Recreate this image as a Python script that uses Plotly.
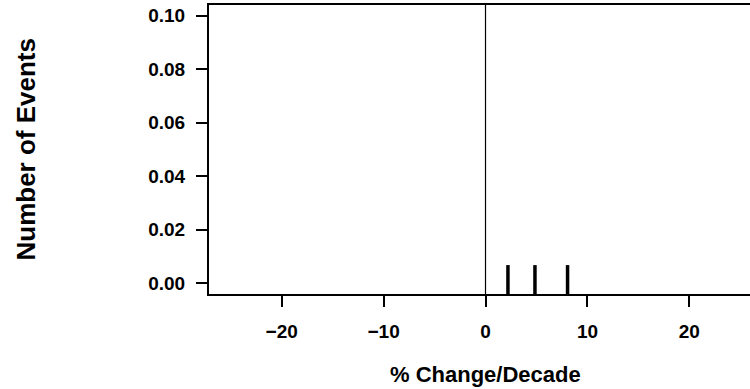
import plotly.graph_objects as go

# Data
rug_values = [2.2, 4.85, 8.05]          # % change/decade of the events
x_ticks = [-20, -10, 0, 10, 20]
y_ticks = [0.00, 0.02, 0.04, 0.06, 0.08, 0.10]
x_range = [-27.13, 25.95]
y_range = [-0.004, 0.104]
rug_top = 0.0068
x_title = "% Change/Decade"
y_title = "Number of Events"

FONT = "Liberation Sans, Arial, Helvetica, sans-serif"

rx, ry = [], []
for v in rug_values:
    rx += [v, v, None]
    ry += [y_range[0], rug_top, None]

fig = go.Figure()
fig.add_trace(go.Scatter(x=rx, y=ry, mode="lines",
                         line=dict(color="black", width=3.5),
                         hoverinfo="skip", showlegend=False))
fig.add_vline(x=0, line=dict(color="black", width=1.2), layer="below")

fig.update_layout(
    width=750, height=389,
    margin=dict(l=209, r=0, t=5, b=95),
    paper_bgcolor="white", plot_bgcolor="white",
    font=dict(family=FONT, color="black"),
    showlegend=False,
    xaxis=dict(range=x_range, tickvals=x_ticks,
               ticktext=[("\u2212" + str(-t)) if t < 0 else str(t) for t in x_ticks],
               showgrid=False, zeroline=False,
               showline=True, linecolor="black", linewidth=2, mirror=True,
               ticks="outside", ticklen=11, tickwidth=2, tickcolor="black",
               tickfont=dict(family=FONT, size=19, weight="bold"),
               ticklabelstandoff=8),
    yaxis=dict(range=y_range, tickvals=y_ticks,
               ticktext=["%.2f" % t for t in y_ticks],
               showgrid=False, zeroline=False,
               showline=True, linecolor="black", linewidth=2, mirror=False,
               ticks="outside", ticklen=11, tickwidth=2, tickcolor="black",
               tickfont=dict(family=FONT, size=19, weight="bold"),
               ticklabelstandoff=7),
    annotations=[
        dict(text=x_title, xref="x", yref="paper", x=0, y=0,
             xanchor="center", yanchor="middle", yshift=-80, showarrow=False,
             font=dict(family=FONT, size=22, weight="bold")),
        dict(text=y_title, xref="paper", yref="paper", x=0, y=0.5,
             xanchor="center", yanchor="middle", xshift=-184, textangle=-90,
             showarrow=False, font=dict(family=FONT, size=26, weight="bold")),
    ],
)

fig.write_html(
    "out.html",
    config={"displayModeBar": False},
    post_script="document.body.style.margin='0';document.body.style.overflow='hidden';",
)
